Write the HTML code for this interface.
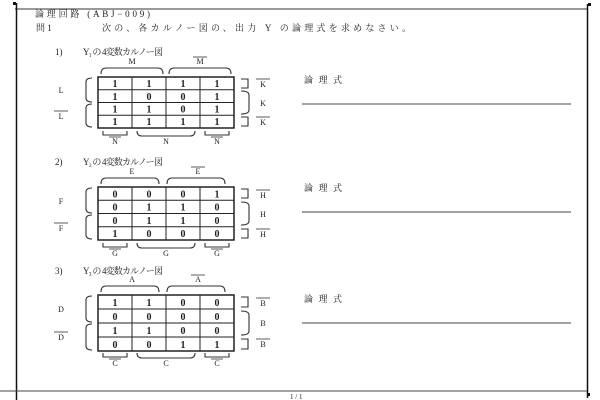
<!DOCTYPE html>
<html><head><meta charset="utf-8"><style>
html,body{margin:0;padding:0;background:#fff;}
svg{display:block;}
text{font-family:"Liberation Serif","Noto Serif CJK SC","Noto Sans CJK JP",serif;fill:#222;}
.j{font-size:9px;}
.d{font-size:10px;font-weight:bold;text-anchor:middle;}
.l{font-size:8px;text-anchor:middle;}
.g line,.g rect{stroke:#222;}
.b{fill:none;stroke:#333;stroke-width:1.1;}
</style></head><body>
<svg width="600" height="400" viewBox="0 0 600 400" xmlns="http://www.w3.org/2000/svg">
<line x1="15" y1="9" x2="588" y2="9" stroke="#333" stroke-width="1"/>
<line x1="16.5" y1="3" x2="16.5" y2="400" stroke="#111" stroke-width="1.5"/>
<line x1="587.5" y1="4" x2="587.5" y2="398" stroke="#111" stroke-width="1.5"/>
<line x1="0" y1="391" x2="587" y2="391" stroke="#444" stroke-width="1"/>
<rect x="13" y="2" width="3" height="3" fill="#111"/>
<rect x="588" y="3" width="3" height="3" fill="#111"/>
<rect x="587" y="393" width="3" height="3" fill="#111"/>
<text x="290" y="399" style="font-size:7px">1 / 1</text>

<text x="35" y="17" class="j" textLength="115" lengthAdjust="spacing">論理回路 (ABJ−009)</text>
<text x="36" y="31" class="j">問 1</text>
<text x="102" y="31" class="j" textLength="309" lengthAdjust="spacing">次の、各カルノー図の、出力 Y の論理式を求めなさい。</text>

<text x="304" y="83" class="j" textLength="38" lengthAdjust="spacing">論理式</text>
<line x1="302" y1="104" x2="571" y2="104" stroke="#444"/>
<text x="304" y="191" class="j" textLength="38" lengthAdjust="spacing">論理式</text>
<line x1="302" y1="212" x2="571" y2="212" stroke="#444"/>
<text x="304" y="302" class="j" textLength="38" lengthAdjust="spacing">論理式</text>
<line x1="302" y1="323" x2="571" y2="323" stroke="#444"/>

<text x="55" y="55" class="j">1)</text><text x="83" y="55" class="j" textLength="80" lengthAdjust="spacing">Y₁ の 4変数カルノー図</text>
<text x="55" y="165" class="j">2)</text><text x="83" y="165" class="j" textLength="80" lengthAdjust="spacing">Y₂ の 4変数カルノー図</text>
<text x="55" y="274" class="j">3)</text><text x="83" y="274" class="j" textLength="80" lengthAdjust="spacing">Y₃ の 4変数カルノー図</text>

<g transform="translate(98,77)">
<g class="g" fill="none" stroke-width="1">
<rect x="0" y="0" width="136" height="51" stroke-width="1.5"/>
<line x1="34" y1="0" x2="34" y2="51"/><line x1="68" y1="0" x2="68" y2="51"/><line x1="102" y1="0" x2="102" y2="51"/>
<line x1="0" y1="12.75" x2="136" y2="12.75"/><line x1="0" y1="25.5" x2="136" y2="25.5"/><line x1="0" y1="38.25" x2="136" y2="38.25"/>
</g>
<text class="d" x="17" y="10">1</text><text class="d" x="51" y="10">1</text><text class="d" x="85" y="10">1</text><text class="d" x="119" y="10">1</text>
<text class="d" x="17" y="23">1</text><text class="d" x="51" y="23">0</text><text class="d" x="85" y="23">0</text><text class="d" x="119" y="23">1</text>
<text class="d" x="17" y="35.5">1</text><text class="d" x="51" y="35.5">1</text><text class="d" x="85" y="35.5">0</text><text class="d" x="119" y="35.5">1</text>
<text class="d" x="17" y="48">1</text><text class="d" x="51" y="48">1</text><text class="d" x="85" y="48">1</text><text class="d" x="119" y="48">1</text>
<path class="b" d="M3,-3 Q3,-9 8,-9 L60,-9 Q65,-9 65,-3"/>
<path class="b" d="M71,-3 Q71,-9 76,-9 L128,-9 Q133,-9 133,-3"/>
<text class="l" x="34" y="-13">M</text>
<text class="l" x="102" y="-13">M</text><line x1="95" y1="-20" x2="109" y2="-20" stroke="#333" stroke-width="0.8"/>
<path class="b" d="M-6,1 Q-12,1 -12,5 L-12,21 Q-12,25 -6,25"/>
<path class="b" d="M-6,27 Q-12,27 -12,31 L-12,46 Q-12,50 -6,50"/>
<text class="l" x="-37" y="16">L</text>
<text class="l" x="-37" y="42">L</text><line x1="-44" y1="34" x2="-30" y2="34" stroke="#333" stroke-width="0.8"/>
<path class="b" d="M143,2 L150,2 L150,11 L143,11"/>
<path class="b" d="M143,14 Q151,14 151,18 L151,33 Q151,37 143,37"/>
<path class="b" d="M143,40 L150,40 L150,49 L143,49"/>
<text class="l" x="165" y="10">K</text><line x1="158" y1="2" x2="172" y2="2" stroke="#333" stroke-width="0.8"/>
<text class="l" x="165" y="29">K</text>
<text class="l" x="165" y="48">K</text><line x1="158" y1="40" x2="172" y2="40" stroke="#333" stroke-width="0.8"/>
<path class="b" d="M5,54 L5,58 L29,58 L29,54"/>
<path class="b" d="M39,54 Q39,59 44,59 L92,59 Q97,59 97,54"/>
<path class="b" d="M107,54 L107,58 L131,58 L131,54"/>
<text class="l" x="17" y="67">N</text><line x1="11" y1="60" x2="23" y2="60" stroke="#333" stroke-width="0.8"/>
<text class="l" x="68" y="67">N</text>
<text class="l" x="119" y="67">N</text><line x1="113" y1="60" x2="125" y2="60" stroke="#333" stroke-width="0.8"/>
</g>

<g transform="translate(98,187)">
<g class="g" fill="none" stroke-width="1">
<rect x="0" y="0" width="136" height="53" stroke-width="1.5"/>
<line x1="34" y1="0" x2="34" y2="53"/><line x1="68" y1="0" x2="68" y2="53"/><line x1="102" y1="0" x2="102" y2="53"/>
<line x1="0" y1="13.25" x2="136" y2="13.25"/><line x1="0" y1="26.5" x2="136" y2="26.5"/><line x1="0" y1="39.75" x2="136" y2="39.75"/>
</g>
<text class="d" x="17" y="10.5">0</text><text class="d" x="51" y="10.5">0</text><text class="d" x="85" y="10.5">0</text><text class="d" x="119" y="10.5">1</text>
<text class="d" x="17" y="23.5">0</text><text class="d" x="51" y="23.5">1</text><text class="d" x="85" y="23.5">1</text><text class="d" x="119" y="23.5">0</text>
<text class="d" x="17" y="37">0</text><text class="d" x="51" y="37">1</text><text class="d" x="85" y="37">1</text><text class="d" x="119" y="37">0</text>
<text class="d" x="17" y="50">1</text><text class="d" x="51" y="50">0</text><text class="d" x="85" y="50">0</text><text class="d" x="119" y="50">0</text>
<path class="b" d="M3,-3 Q3,-9 8,-9 L56,-9 Q61,-9 61,-3"/>
<path class="b" d="M69,-3 Q69,-9 74,-9 L122,-9 Q127,-9 127,-3"/>
<text class="l" x="34" y="-13">E</text>
<text class="l" x="100" y="-13">E</text><line x1="93" y1="-20" x2="107" y2="-20" stroke="#333" stroke-width="0.8"/>
<path class="b" d="M-6,1 Q-12,1 -12,5 L-12,22 Q-12,26 -6,26"/>
<path class="b" d="M-6,28 Q-12,28 -12,32 L-12,48 Q-12,52 -6,52"/>
<text class="l" x="-37" y="17">F</text>
<text class="l" x="-37" y="44">F</text><line x1="-44" y1="36" x2="-30" y2="36" stroke="#333" stroke-width="0.8"/>
<path class="b" d="M143,2 L150,2 L150,11 L143,11"/>
<path class="b" d="M143,15 Q151,15 151,19 L151,34 Q151,38 143,38"/>
<path class="b" d="M143,42 L150,42 L150,51 L143,51"/>
<text class="l" x="165" y="11">H</text><line x1="158" y1="3" x2="172" y2="3" stroke="#333" stroke-width="0.8"/>
<text class="l" x="165" y="30">H</text>
<text class="l" x="165" y="50">H</text><line x1="158" y1="42" x2="172" y2="42" stroke="#333" stroke-width="0.8"/>
<path class="b" d="M5,56 L5,60 L29,60 L29,56"/>
<path class="b" d="M39,56 Q39,61 44,61 L92,61 Q97,61 97,56"/>
<path class="b" d="M107,56 L107,60 L131,60 L131,56"/>
<text class="l" x="17" y="69">G</text><line x1="11" y1="62" x2="23" y2="62" stroke="#333" stroke-width="0.8"/>
<text class="l" x="68" y="69">G</text>
<text class="l" x="119" y="69">G</text><line x1="113" y1="62" x2="125" y2="62" stroke="#333" stroke-width="0.8"/>
</g>

<g transform="translate(98,295)">
<g class="g" fill="none" stroke-width="1">
<rect x="0" y="0" width="136" height="56" stroke-width="1.5"/>
<line x1="34" y1="0" x2="34" y2="56"/><line x1="68" y1="0" x2="68" y2="56"/><line x1="102" y1="0" x2="102" y2="56"/>
<line x1="0" y1="14" x2="136" y2="14"/><line x1="0" y1="28" x2="136" y2="28"/><line x1="0" y1="42" x2="136" y2="42"/>
</g>
<text class="d" x="17" y="11">1</text><text class="d" x="51" y="11">1</text><text class="d" x="85" y="11">0</text><text class="d" x="119" y="11">0</text>
<text class="d" x="17" y="25">0</text><text class="d" x="51" y="25">0</text><text class="d" x="85" y="25">0</text><text class="d" x="119" y="25">0</text>
<text class="d" x="17" y="39">1</text><text class="d" x="51" y="39">1</text><text class="d" x="85" y="39">0</text><text class="d" x="119" y="39">0</text>
<text class="d" x="17" y="53">0</text><text class="d" x="51" y="53">0</text><text class="d" x="85" y="53">1</text><text class="d" x="119" y="53">1</text>
<path class="b" d="M3,-3 Q3,-9 8,-9 L56,-9 Q61,-9 61,-3"/>
<path class="b" d="M69,-3 Q69,-9 74,-9 L122,-9 Q127,-9 127,-3"/>
<text class="l" x="34" y="-13">A</text>
<text class="l" x="100" y="-13">A</text><line x1="93" y1="-20" x2="107" y2="-20" stroke="#333" stroke-width="0.8"/>
<path class="b" d="M-6,1 Q-12,1 -12,5 L-12,23 Q-12,27 -6,27"/>
<path class="b" d="M-6,29 Q-12,29 -12,33 L-12,51 Q-12,55 -6,55"/>
<text class="l" x="-37" y="17">D</text>
<text class="l" x="-37" y="45">D</text><line x1="-44" y1="37" x2="-30" y2="37" stroke="#333" stroke-width="0.8"/>
<path class="b" d="M143,2 L150,2 L150,12 L143,12"/>
<path class="b" d="M143,16 Q151,16 151,20 L151,36 Q151,40 143,40"/>
<path class="b" d="M143,44 L150,44 L150,54 L143,54"/>
<text class="l" x="165" y="11">B</text><line x1="158" y1="3" x2="172" y2="3" stroke="#333" stroke-width="0.8"/>
<text class="l" x="165" y="31">B</text>
<text class="l" x="165" y="52">B</text><line x1="158" y1="44" x2="172" y2="44" stroke="#333" stroke-width="0.8"/>
<path class="b" d="M5,58 L5,62 L29,62 L29,58"/>
<path class="b" d="M39,58 Q39,63 44,63 L92,63 Q97,63 97,58"/>
<path class="b" d="M107,58 L107,62 L131,62 L131,58"/>
<text class="l" x="17" y="71">C</text><line x1="11" y1="64" x2="23" y2="64" stroke="#333" stroke-width="0.8"/>
<text class="l" x="68" y="71">C</text>
<text class="l" x="119" y="71">C</text><line x1="113" y1="64" x2="125" y2="64" stroke="#333" stroke-width="0.8"/>
</g>
</svg>
</body></html>
